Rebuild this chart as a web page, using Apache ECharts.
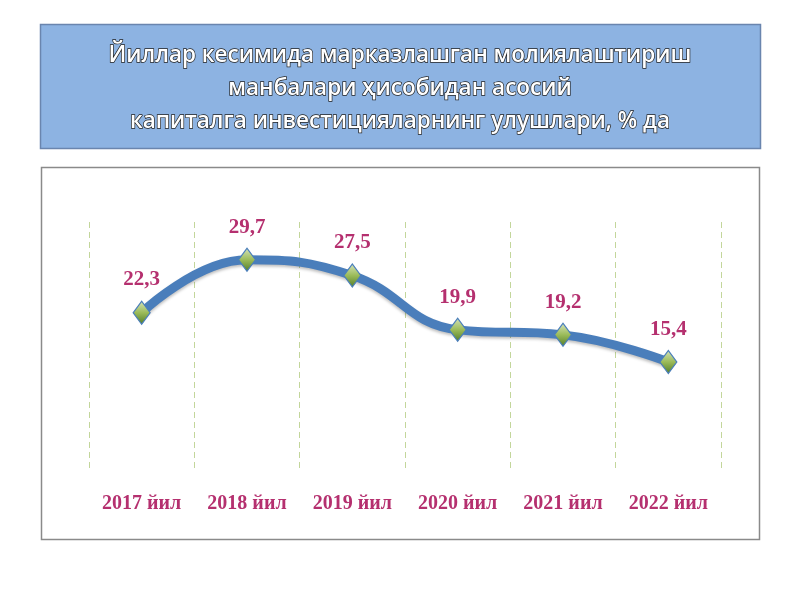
<!DOCTYPE html>
<html><head><meta charset="utf-8">
<script src="https://cdn.jsdelivr.net/npm/echarts@6/dist/echarts.min.js"></script>
<style>html,body{margin:0;padding:0;background:#fff}#c{width:800px;height:600px}</style>
</head><body><div id="c"></div>
<script>
const titleLines = ['Йиллар кесимида марказлашган молиялаштириш', 'манбалари ҳисобидан асосий', 'капиталга инвестицияларнинг улушлари, % да'];
const categories = ['2017 йил', '2018 йил', '2019 йил', '2020 йил', '2021 йил', '2022 йил'];
const values = [22.3, 29.7, 27.5, 19.9, 19.2, 15.4];
const valueLabels = ['22,3', '29,7', '27,5', '19,9', '19,2', '15,4'];

const chart = echarts.init(document.getElementById('c'), null, {renderer: 'canvas'});
const pink = '#B5306F';
chart.setOption({
  animation: false,
  backgroundColor: '#ffffff',
  graphic: [
    {type: 'rect', z: -10, shape: {x: 40.5, y: 24.5, width: 720, height: 124},
     style: {fill: '#8DB3E2', stroke: '#6A85AE', lineWidth: 1.5}},
    {type: 'rect', z: -10, shape: {x: 41.5, y: 167.5, width: 718, height: 372},
     style: {fill: '#ffffff', stroke: '#8a8a8a', lineWidth: 1.5}}
  ],
  title: {
    text: titleLines.join('\n'),
    left: 'center', top: 34,
    textStyle: {
      color: '#ffffff', fontFamily: 'Open Sans', fontSize: 22.5, fontWeight: 600,
      lineHeight: 33, textBorderColor: '#222222', textBorderWidth: 1.4
    }
  },
  grid: {left: 89, right: 79, top: 222, bottom: 128},
  xAxis: {
    type: 'category', data: categories, boundaryGap: true,
    axisLine: {show: false}, axisTick: {show: false},
    axisLabel: {color: pink, fontFamily: 'Liberation Serif', fontWeight: 'bold', fontSize: 20, margin: 22},
    splitLine: {show: true, showMinLine: true, showMaxLine: true, lineStyle: {color: '#C3D69B', width: 1, type: [6, 4]}}
  },
  yAxis: {
    type: 'value', min: 0, max: 35, show: false,
    splitLine: {show: false}
  },
  series: [{
    type: 'line', data: values, smooth: 0.45,
    lineStyle: {color: '#4A7EBB', width: 9, shadowColor: 'rgba(0,0,0,0.25)', shadowBlur: 3, shadowOffsetY: 2},
    symbol: 'diamond', symbolSize: [17, 23],
    itemStyle: {
      color: new echarts.graphic.LinearGradient(0, 0, 0, 1, [
        {offset: 0, color: '#D7E4BD'}, {offset: 0.5, color: '#9BBB59'}, {offset: 1, color: '#4F7A28'}
      ]),
      borderColor: '#4A7EBB', borderWidth: 1.2
    },
    label: {
      show: true, position: 'top', distance: 10,
      formatter: p => valueLabels[p.dataIndex],
      color: pink, fontFamily: 'Liberation Serif', fontWeight: 'bold', fontSize: 21
    }
  }]
});
</script></body></html>
